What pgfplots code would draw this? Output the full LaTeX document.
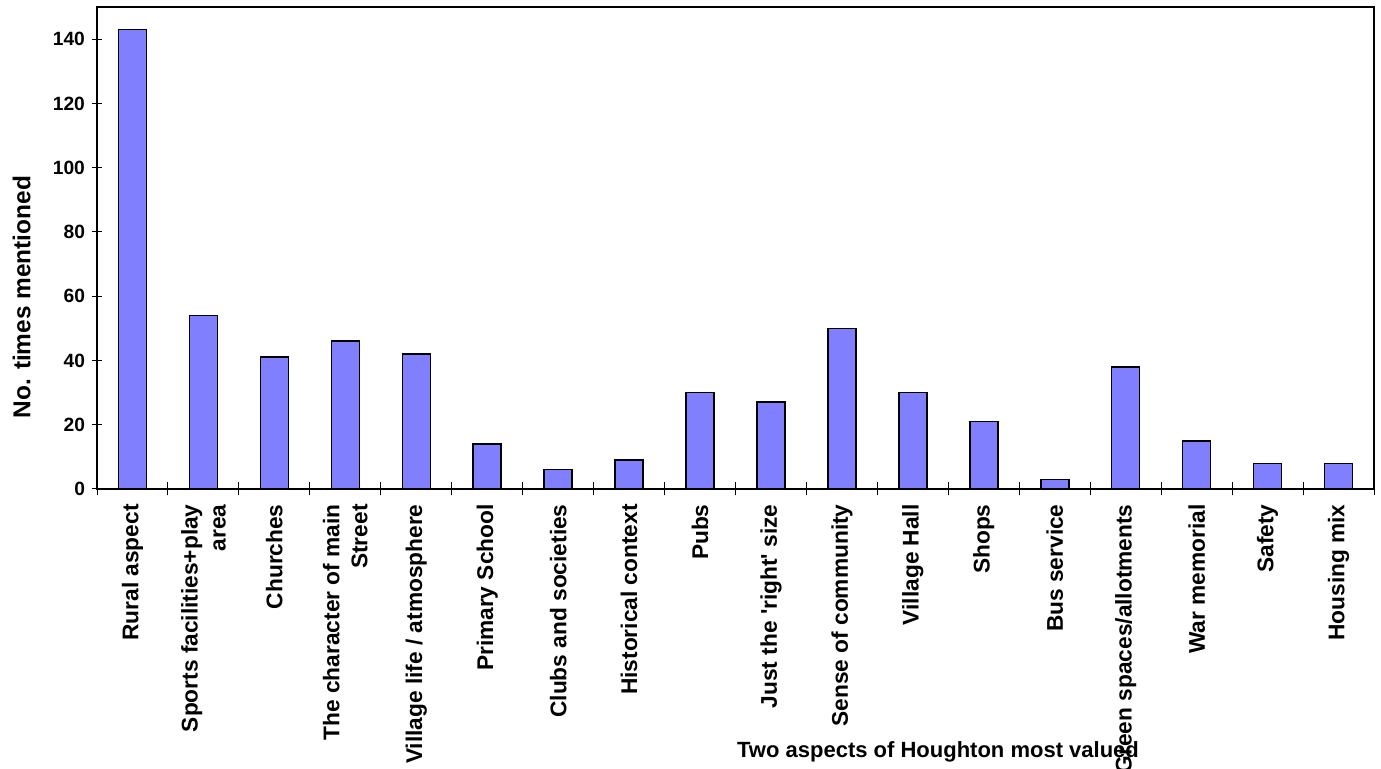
\documentclass[border=0pt]{standalone}
\usepackage{pgfplots}
\pgfplotsset{compat=1.18}
\usepackage{fontspec}
\setmainfont{Liberation Sans}
\definecolor{barblue}{HTML}{8080FF}

\begin{document}
\begin{tikzpicture}
\begin{axis}[
    at={(0,0)}, anchor=south west,
    scale only axis,
    width=638.5pt, height=241pt,
    xmin=-0.5, xmax=17.5,
    ymin=0, ymax=150,
    ytick={0,20,...,140},
    xtick={0,...,17},
    minor xtick={-0.5,0.5,...,17.5},
    xticklabels={
        Rural aspect,
        {Sports facilities+play\\area},
        Churches,
        {The character of main\\Street},
        Village life / atmosphere,
        Primary School,
        Clubs and societies,
        Historical context,
        Pubs,
        Just the \textquotesingle right\textquotesingle\ size,
        Sense of community,
        Village Hall,
        Shops,
        Bus service,
        Green spaces/allotments,
        War memorial,
        Safety,
        Housing mix},
    xticklabel style={rotate=90, anchor=east, align=right, font=\bfseries\fontsize{11.35}{14}\selectfont, inner xsep=5pt, inner ysep=1pt},
    yticklabel style={font=\bfseries\fontsize{9.6}{11}\selectfont},
    /pgf/number format/assume math mode=true,
    major x tick style={draw=none},
    minor x tick style={black, line width=0.5pt},
    minor tick length=6.5pt,
    major tick length=5pt,
    tick align=center,
    ytick style={black, line width=0.5pt},
    xtick pos=bottom, ytick pos=left,
    axis line style={line width=0.6pt},
    ylabel={No. times mentioned},
    every axis y label/.style={at={(axis description cs:-0.059,0.398)}, rotate=90, anchor=center, font=\bfseries\fontsize{12.2}{14}\selectfont},
    xlabel={Two aspects of Houghton most valued},
    every axis x label/.style={at={(axis description cs:0.6586,-0.5456)}, anchor=center, font=\bfseries\fontsize{11}{13}\selectfont},
]
\addplot[ybar, bar width=14pt, fill=barblue, draw=black, line width=0.75pt] coordinates {
    (0,143) (1,54) (2,41) (3,46) (4,42) (5,14) (6,6) (7,9) (8,30)
    (9,27) (10,50) (11,30) (12,21) (13,3) (14,38) (15,15) (16,8) (17,8)
};
\end{axis}
\pgfresetboundingbox
\path[use as bounding box] (-48.5pt,-140pt) rectangle (642pt,244.5pt);
\end{tikzpicture}
\end{document}
